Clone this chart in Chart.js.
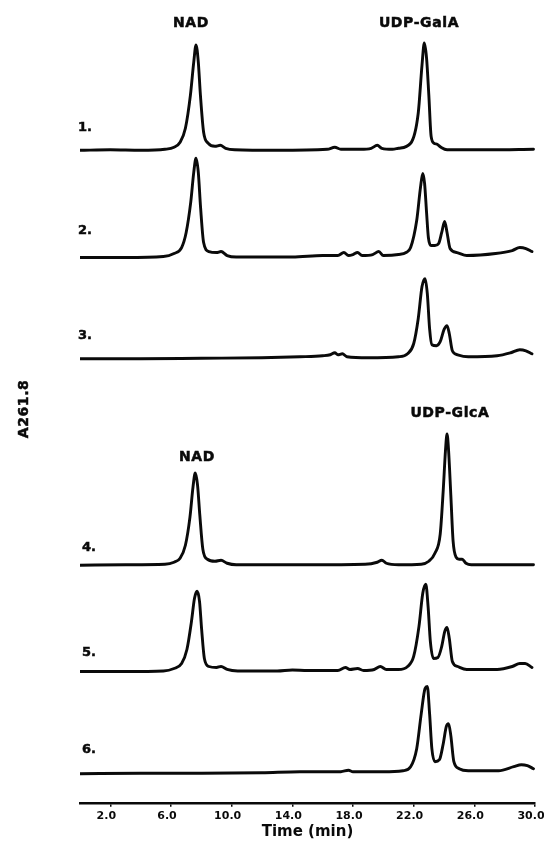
<!DOCTYPE html>
<html>
<head>
<meta charset="utf-8">
<script src="https://cdn.jsdelivr.net/npm/chart.js@4"></script>
<style>
  html, body { margin: 0; padding: 0; background: #fff; }
  #wrap { width: 544px; height: 858px; position: relative; }
</style>
</head>
<body>
<div id="wrap"><canvas id="c"></canvas></div>
<script>
// ---- Data (time in min, absorbance above each trace's own baseline) ----
const xTicks = [2, 6, 10, 14, 18, 22, 26, 30];
const traceNames = ['1.', '2.', '3.', '4.', '5.', '6.'];
const traceOffsets = [6.51, 5.44, 4.43, 2.37, 1.31, 0.29];

const trace1 = [[0,0],[2,0.005],[4,0],[5.6,0.01],[6.2,0.03],[6.6,0.08],[6.95,0.22],[7.28,0.55],[7.5,0.88],[7.65,1.05],[7.8,0.88],[7.94,0.55],[8.15,0.18],[8.46,0.07],[8.9,0.04],[9.25,0.05],[9.6,0.02],[10.2,0.005],[13,0],[16.3,0.01],[16.8,0.03],[17.2,0.01],[18.5,0.01],[19.2,0.02],[19.6,0.05],[19.9,0.02],[20.6,0.01],[21.0,0.02],[21.8,0.07],[22.3,0.37],[22.55,0.85],[22.7,1.07],[22.85,0.92],[23.0,0.55],[23.15,0.14],[23.35,0.07],[23.55,0.06],[23.8,0.03],[24.2,0.005],[27,0.005],[29.9,0.01]];
const trace2 = [[0,0],[3,0],[5.5,0.01],[6.2,0.04],[6.7,0.1],[7.0,0.25],[7.3,0.55],[7.5,0.85],[7.65,0.99],[7.8,0.85],[7.95,0.5],[8.15,0.15],[8.5,0.06],[9.0,0.05],[9.3,0.06],[9.7,0.02],[10.3,0.005],[14,0.005],[16,0.02],[17.0,0.02],[17.4,0.05],[17.7,0.02],[18.0,0.03],[18.3,0.05],[18.6,0.02],[19.3,0.03],[19.7,0.06],[20.0,0.02],[21.0,0.03],[21.5,0.05],[21.8,0.1],[22.2,0.37],[22.45,0.7],[22.6,0.84],[22.72,0.74],[22.85,0.45],[22.97,0.2],[23.15,0.12],[23.4,0.12],[23.65,0.14],[23.85,0.25],[24.04,0.36],[24.2,0.25],[24.4,0.09],[24.86,0.05],[25.5,0.02],[27.4,0.04],[28.5,0.07],[29.0,0.1],[29.4,0.09],[29.8,0.06]];
const trace3 = [[0,0],[4,0],[8,0.005],[12,0.01],[14.5,0.02],[16.0,0.03],[16.5,0.04],[16.8,0.06],[17.0,0.04],[17.3,0.05],[17.6,0.02],[19,0.01],[21.0,0.02],[21.6,0.05],[22.0,0.15],[22.3,0.4],[22.55,0.72],[22.75,0.8],[22.9,0.65],[23.05,0.3],[23.2,0.14],[23.5,0.13],[23.75,0.17],[24.0,0.29],[24.2,0.33],[24.35,0.25],[24.55,0.08],[24.9,0.04],[25.6,0.02],[27.5,0.03],[28.4,0.06],[29.0,0.09],[29.4,0.08],[29.8,0.05]];
const trace4 = [[0,0],[3,0.005],[5.6,0.01],[6.2,0.03],[6.6,0.07],[6.95,0.2],[7.25,0.48],[7.45,0.78],[7.6,0.92],[7.75,0.8],[7.9,0.5],[8.1,0.16],[8.4,0.06],[8.9,0.04],[9.3,0.05],[9.7,0.02],[10.3,0.005],[15,0.005],[18.8,0.01],[19.6,0.03],[19.9,0.05],[20.2,0.02],[21,0.005],[22.5,0.01],[23.0,0.04],[23.4,0.12],[23.75,0.31],[23.95,0.75],[24.1,1.15],[24.2,1.31],[24.3,1.15],[24.45,0.7],[24.6,0.24],[24.8,0.08],[25.0,0.06],[25.2,0.06],[25.45,0.02],[25.8,0.005],[29.9,0.005]];
const trace5 = [[0,0],[3,0],[5.5,0.005],[6.2,0.03],[6.7,0.08],[7.05,0.22],[7.35,0.5],[7.55,0.73],[7.72,0.8],[7.88,0.7],[8.02,0.42],[8.2,0.13],[8.5,0.05],[9.0,0.04],[9.3,0.05],[9.7,0.02],[10.4,0.005],[13,0.005],[14,0.015],[15,0.01],[17.0,0.01],[17.5,0.04],[17.8,0.02],[18.3,0.03],[18.7,0.01],[19.4,0.02],[19.8,0.05],[20.2,0.02],[21.0,0.02],[21.6,0.05],[22.0,0.15],[22.35,0.45],[22.6,0.78],[22.8,0.87],[22.95,0.65],[23.1,0.3],[23.3,0.13],[23.6,0.14],[23.85,0.25],[24.05,0.4],[24.2,0.44],[24.35,0.33],[24.55,0.1],[24.9,0.05],[25.5,0.02],[27.5,0.02],[28.5,0.05],[29.0,0.08],[29.35,0.08],[29.8,0.04]];
const trace6 = [[0,0],[4,0.005],[8,0.005],[12,0.01],[14.5,0.02],[16,0.02],[17.2,0.02],[17.7,0.035],[18.0,0.02],[20,0.02],[21.3,0.03],[21.8,0.07],[22.2,0.25],[22.5,0.6],[22.75,0.85],[22.9,0.87],[23.05,0.6],[23.2,0.25],[23.4,0.12],[23.7,0.14],[23.95,0.3],[24.15,0.47],[24.3,0.5],[24.45,0.38],[24.65,0.12],[25.0,0.05],[25.6,0.03],[27.6,0.03],[28.6,0.07],[29.1,0.09],[29.5,0.08],[29.9,0.05]];

const traces = [trace1, trace2, trace3, trace4, trace5, trace6];
const peakNames = ['NAD', 'UDP-GalA', 'NAD', 'UDP-GlcA'];

// ---- Build datasets ----
const datasets = traces.map((tr, i) => ({
  label: traceNames[i],
  data: tr.map(p => ({ x: p[0], y: p[1] + traceOffsets[i] })),
  borderColor: '#0a0a0a',
  borderWidth: 2.9,
  pointRadius: 0,
  fill: false,
  cubicInterpolationMode: 'monotone',
  borderJoinStyle: 'round',
  borderCapStyle: 'round'
}));

// ---- Text annotations drawn through the scales ----
function heavyText(ctx, s, px, py) {
  ctx.fillText(s, px, py);
  ctx.strokeText(s, px, py);
}
const annotPlugin = {
  id: 'annot',
  afterDatasetsDraw(chart) {
    const { ctx, scales: { x, y } } = chart;
    ctx.save();
    ctx.fillStyle = '#0a0a0a';
    ctx.strokeStyle = '#0a0a0a';
    ctx.lineWidth = 0.5;
    ctx.textBaseline = 'middle';
    // peak labels: [name index, time, y value]
    const peakPos = [[0, 7.32, 7.775], [1, 22.35, 7.78], [2, 7.71, 3.45], [3, 24.39, 3.89]];
    ctx.font = 'bold 14px "DejaVu Sans"';
    ctx.letterSpacing = '0.6px';
    ctx.textAlign = 'center';
    peakPos.forEach(([k, t, v]) => heavyText(ctx, peakNames[k], x.getPixelForValue(t), y.getPixelForValue(v)));
    // trace numbers, relative to each baseline
    const numDx = [-0.13, -0.13, -0.13, 0.13, 0.13, 0.13];
    const numDy = [0.23, 0.27, 0.23, 0.18, 0.19, 0.24];
    ctx.font = 'bold 13px "DejaVu Sans"';
    ctx.letterSpacing = '0px';
    ctx.textAlign = 'left';
    traceNames.forEach((n, i) => heavyText(ctx, n, x.getPixelForValue(numDx[i]), y.getPixelForValue(traceOffsets[i] + numDy[i])));
    // y-axis title
    ctx.translate(24, y.getPixelForValue(3.93));
    ctx.rotate(-Math.PI / 2);
    ctx.textAlign = 'center';
    ctx.font = 'bold 14px "DejaVu Sans"';
    ctx.letterSpacing = '0.6px';
    heavyText(ctx, 'A261.8', 0, 0);
    ctx.restore();
  }
};

new Chart(document.getElementById('c'), {
  type: 'line',
  data: { datasets },
  options: {
    responsive: true,
    maintainAspectRatio: false,
    animation: false,
    layout: { padding: { left: 80, right: 9, top: 21, bottom: 17 } },
    plugins: { legend: { display: false }, tooltip: { enabled: false } },
    scales: {
      x: {
        type: 'linear',
        min: 0,
        max: 30,
        afterBuildTicks: s => { s.ticks = xTicks.map(v => ({ value: v })); },
        afterFit: s => { s.paddingLeft = 0; s.paddingRight = 0; },
        ticks: {
          color: '#0a0a0a',
          font: { family: 'DejaVu Sans', weight: 'bold', size: 11 },
          padding: 3,
          labelOffset: -4,
          maxRotation: 0,
          autoSkip: false,
          callback: v => Number(v).toFixed(1)
        },
        grid: { display: true, drawOnChartArea: false, drawTicks: true, tickLength: 4, color: '#0a0a0a', lineWidth: 1.5 },
        border: { display: true, color: '#0a0a0a', width: 2.5 },
        title: {
          display: true,
          text: 'Time (min)',
          color: '#0a0a0a',
          font: { family: 'DejaVu Sans', weight: 'bold', size: 15 },
          padding: { top: -3, bottom: 0 }
        }
      },
      y: { display: false, min: 0, max: 7.8 }
    }
  },
  plugins: [annotPlugin]
});
</script>
</body>
</html>
